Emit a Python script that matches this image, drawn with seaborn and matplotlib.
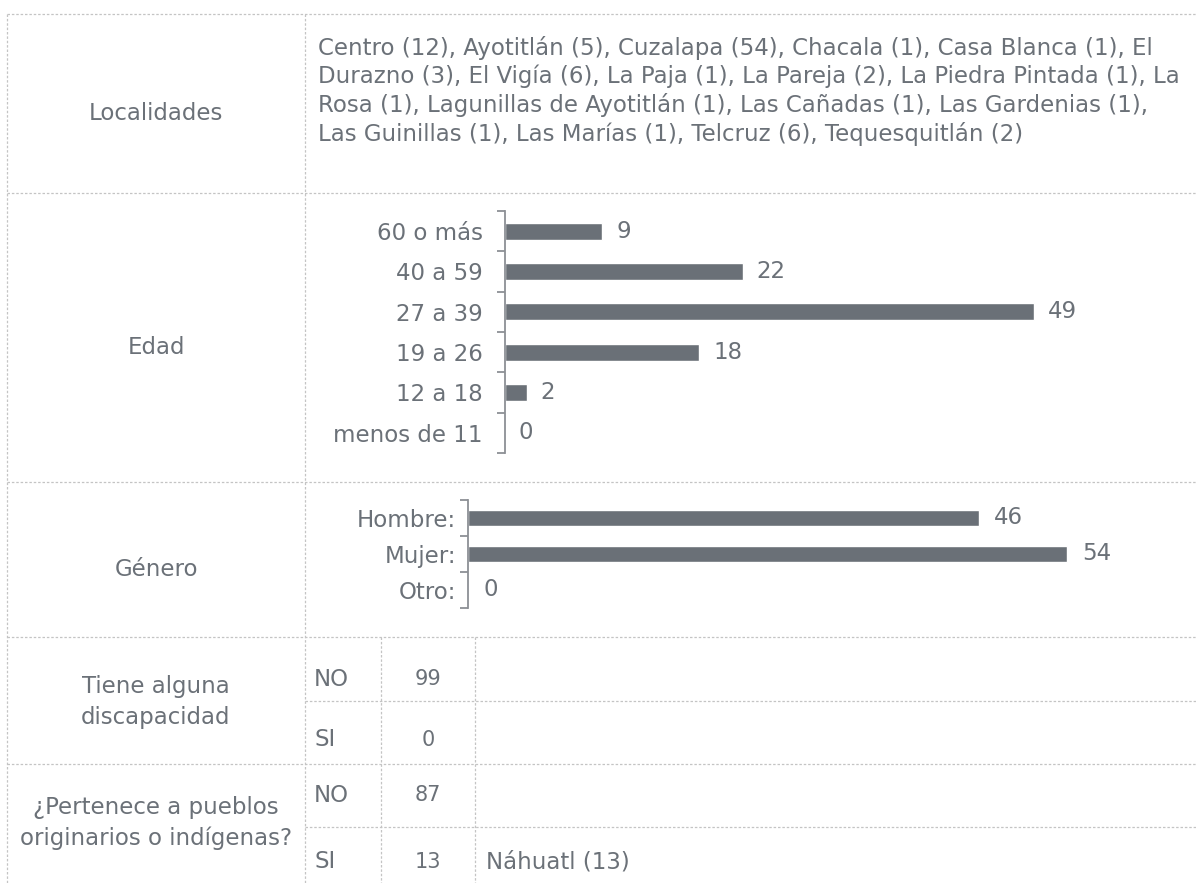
import matplotlib
matplotlib.use("Agg")
import matplotlib.pyplot as plt
import seaborn as sns
import numpy as np

# datos de la tabla
localidades_lineas = [
    "Centro (12), Ayotitlán (5), Cuzalapa (54), Chacala (1), Casa Blanca (1), El",
    "Durazno (3), El Vigía (6), La Paja (1), La Pareja (2), La Piedra Pintada (1), La",
    "Rosa (1), Lagunillas de Ayotitlán (1), Las Cañadas (1), Las Gardenias (1),",
    "Las Guinillas (1), Las Marías (1), Telcruz (6), Tequesquitlán (2)",
]

edad_cat = ["60 o más", "40 a 59", "27 a 39", "19 a 26", "12 a 18", "menos de 11"]
edad_val = [9, 22, 49, 18, 2, 0]

genero_cat = ["Hombre:", "Mujer:", "Otro:"]
genero_val = [46, 54, 0]

discapacidad_cat = ["NO", "SI"]
discapacidad_val = [99, 0]

pueblos_cat = ["NO", "SI"]
pueblos_val = [87, 13]
pueblos_detalle = ["", "Náhuatl (13)"]

gris_texto = "#6b7178"
gris_barra = "#6a7077"
gris_eje = "#8c9095"
gris_linea = "#c4c4c4"
tam = 16.5

sns.set_theme(style="white")
plt.rcParams["font.family"] = ["DejaVu Sans"]

W, H = 1196, 883
fig = plt.figure(figsize=(W / 100, H / 100), dpi=100)

# capa de fondo con la cuadricula de la tabla (coordenadas en pixeles)
fondo = fig.add_axes([0, 0, 1, 1])
fondo.set_xlim(0, W)
fondo.set_ylim(H, 0)
fondo.axis("off")

def linea(xs, ys):
    fondo.plot(xs, ys, color=gris_linea, lw=0.9, ls=(0, (2, 1.5)))

linea([7, W], [14, 14])
linea([7, W], [193, 193])
linea([7, W], [482, 482])
linea([7, W], [637, 637])
linea([305, W], [701, 701])
linea([7, W], [764, 764])
linea([305, W], [827, 827])
linea([7, 7], [14, H])
linea([305, 305], [14, H])
linea([381, 381], [637, H])
linea([475, 475], [637, H])

# columna izquierda
fondo.text(156, 113, "Localidades", ha="center", va="center", color=gris_texto, fontsize=tam)
fondo.text(156, 348, "Edad", ha="center", va="center", color=gris_texto, fontsize=tam)
fondo.text(156, 570, "Género", ha="center", va="center", color=gris_texto, fontsize=tam)
fondo.text(156, 702, "Tiene alguna\ndiscapacidad", ha="center", va="center",
           color=gris_texto, fontsize=tam, linespacing=1.45)
fondo.text(156, 823, "¿Pertenece a pueblos\noriginarios o indígenas?", ha="center", va="center",
           color=gris_texto, fontsize=tam, linespacing=1.45)

# localidades
for i, txt in enumerate(localidades_lineas):
    fondo.text(318, 48 + i * 28.5, txt, ha="left", va="center", color=gris_texto, fontsize=16.5)

# filas SI / NO
filas_y = [679, 740]
for cat, val, y in zip(discapacidad_cat, discapacidad_val, filas_y):
    fondo.text(314, y, cat, ha="left", va="center", color=gris_texto, fontsize=tam)
    fondo.text(428, y, str(val), ha="center", va="center", color=gris_texto, fontsize=15)

filas_y = [795, 862]
for cat, val, det, y in zip(pueblos_cat, pueblos_val, pueblos_detalle, filas_y):
    fondo.text(314, y, cat, ha="left", va="center", color=gris_texto, fontsize=tam)
    fondo.text(428, y, str(val), ha="center", va="center", color=gris_texto, fontsize=15)
    if det:
        fondo.text(486, y, det, ha="left", va="center", color=gris_texto, fontsize=tam)


def grafica_barras(ax, cats, vals, pad_lbl, pad_val):
    sns.barplot(x=vals, y=cats, orient="h", color=gris_barra, width=0.42,
                saturation=1, ax=ax)
    n = len(cats)
    ax.set_xlim(0, 60)
    ax.set_ylim(n - 0.5, -0.5)
    ax.set_xlabel("")
    ax.set_ylabel("")
    ax.set_facecolor("none")
    for s in ["top", "right", "bottom"]:
        ax.spines[s].set_visible(False)
    ax.spines["left"].set_color(gris_eje)
    ax.spines["left"].set_linewidth(1.3)
    ax.set_xticks([])
    ax.set_yticks(np.arange(-0.5, n, 1.0), minor=True)
    ax.tick_params(axis="y", which="minor", left=True, length=5.5, width=1.3,
                   color=gris_eje, direction="out")
    ax.tick_params(axis="y", which="major", left=True, length=0, pad=pad_lbl,
                   labelsize=tam, labelcolor=gris_texto)
    for cont in ax.containers:
        ax.bar_label(cont, labels=[str(v) for v in vals], padding=pad_val,
                     color=gris_texto, fontsize=tam)


ax_edad = fig.add_axes([505 / W, 1 - 453 / H, 648 / W, 242 / H])
grafica_barras(ax_edad, edad_cat, edad_val, 16, 10)

ax_gen = fig.add_axes([468 / W, 1 - 608 / H, 666 / W, 108 / H])
grafica_barras(ax_gen, genero_cat, genero_val, 8.5, 11)

fig.savefig("out.png", dpi=100)
